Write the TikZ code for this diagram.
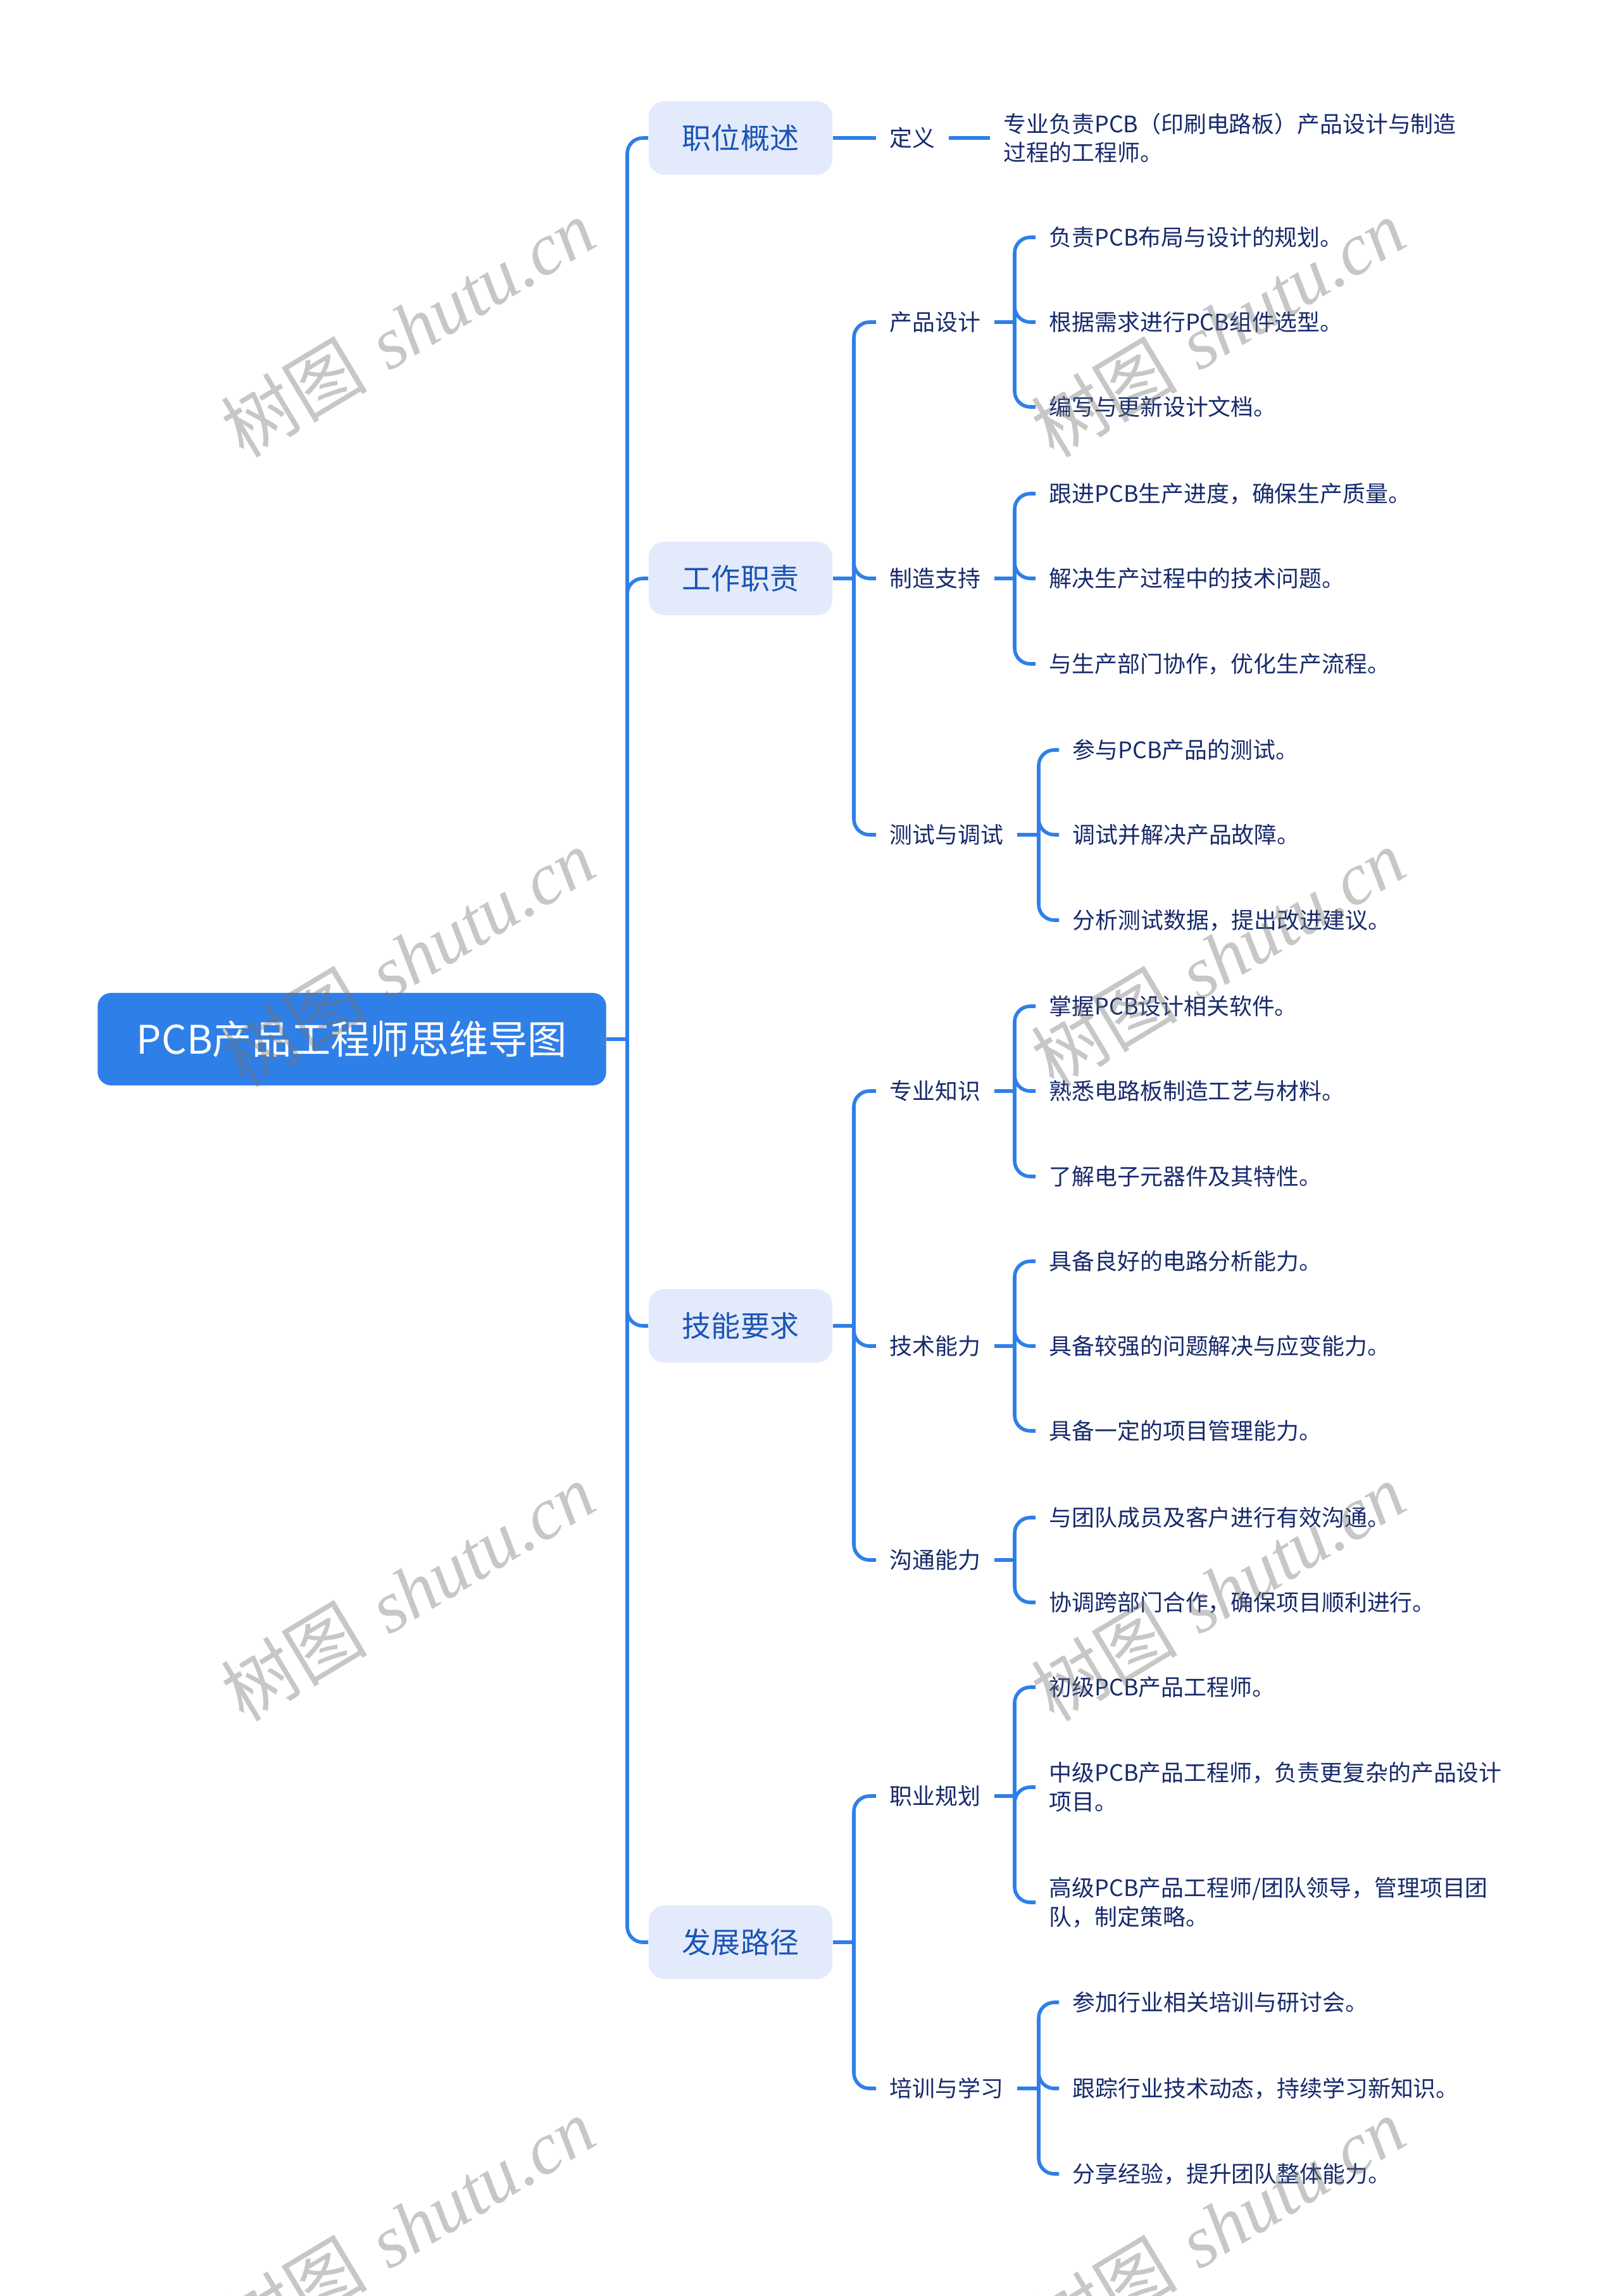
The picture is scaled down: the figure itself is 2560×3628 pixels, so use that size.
\documentclass[tikz,border=0pt]{standalone}
\usepackage{fontspec}
\newfontfamily\cjk{Noto Sans CJK SC}
\newfontfamily\wmserif{Liberation Serif}
\definecolor{linkblue}{HTML}{2F7FE8}
\definecolor{topicfill}{HTML}{E3EAFB}
\definecolor{topictext}{HTML}{1B55B5}
\definecolor{leaftext}{HTML}{172A6B}
\begin{document}
\begin{tikzpicture}[x=0.01cm,y=-0.01cm]
  \tikzstyle{root}=[rectangle,rounded corners=6pt,fill=linkblue,text=white,minimum width=8.03cm,minimum height=1.46cm,font=\cjk\fontsize{17.7}{21}\selectfont]
  \tikzstyle{topic}=[rectangle,rounded corners=7pt,fill=topicfill,text=topictext,minimum width=2.9cm,minimum height=1.16cm,font=\cjk\fontsize{13.1}{16}\selectfont]
  \tikzstyle{sub}=[anchor=west,inner xsep=6pt,inner ysep=2pt,text=leaftext,font=\cjk\fontsize{10.2}{13}\selectfont]
  \tikzstyle{leaf}=[anchor=west,inner xsep=6pt,inner ysep=2pt,align=left,text=leaftext,font=\cjk\fontsize{10.2}{13}\selectfont]
  \tikzstyle{link}=[draw=linkblue,line width=1.6pt,rounded corners=7pt]
  \tikzstyle{watermark}=[rotate=31,text=black!55,text opacity=0.4,font=\fontsize{33}{38}\selectfont]
  \path[fill=white] (0,0) rectangle (2560,3628);
  \useasboundingbox (0,0) rectangle (2560,3628);
  % root and main topics
  \node[root] (root) at (556,1642) {PCB产品工程师思维导图};
  \node[topic] (gaishu) at (1170,218) {职位概述};
  \node[topic] (zhize) at (1170,914) {工作职责};
  \node[topic] (jineng) at (1170,2095) {技能要求};
  \node[topic] (fazhan) at (1170,3069) {发展路径};
  % second level
  \node[sub] (dingyi) at (1384,218) {定义};
  \node[sub] (chanpin) at (1384,509) {产品设计};
  \node[sub] (zhizao) at (1384,914) {制造支持};
  \node[sub] (ceshi) at (1384,1319) {测试与调试};
  \node[sub] (zhuanye) at (1384,1724) {专业知识};
  \node[sub] (jishu) at (1384,2127) {技术能力};
  \node[sub] (goutong) at (1384,2465) {沟通能力};
  \node[sub] (guihua) at (1384,2838) {职业规划};
  \node[sub] (peixun) at (1384,3300) {培训与学习};
  % leaves
  \node[leaf] (dingyiA) at (1564,218) {专业负责PCB（印刷电路板）产品设计与制造\\过程的工程师。};
  \node[leaf] (chanpinA) at (1636,375) {负责PCB布局与设计的规划。};
  \node[leaf] (chanpinB) at (1636,509) {根据需求进行PCB组件选型。};
  \node[leaf] (chanpinC) at (1636,643) {编写与更新设计文档。};
  \node[leaf] (zhizaoA) at (1636,780) {跟进PCB生产进度，确保生产质量。};
  \node[leaf] (zhizaoB) at (1636,914) {解决生产过程中的技术问题。};
  \node[leaf] (zhizaoC) at (1636,1049) {与生产部门协作，优化生产流程。};
  \node[leaf] (ceshiA) at (1673,1185) {参与PCB产品的测试。};
  \node[leaf] (ceshiB) at (1673,1319) {调试并解决产品故障。};
  \node[leaf] (ceshiC) at (1673,1454) {分析测试数据，提出改进建议。};
  \node[leaf] (zhuanyeA) at (1636,1590) {掌握PCB设计相关软件。};
  \node[leaf] (zhuanyeB) at (1636,1724) {熟悉电路板制造工艺与材料。};
  \node[leaf] (zhuanyeC) at (1636,1859) {了解电子元器件及其特性。};
  \node[leaf] (jishuA) at (1636,1993) {具备良好的电路分析能力。};
  \node[leaf] (jishuB) at (1636,2127) {具备较强的问题解决与应变能力。};
  \node[leaf] (jishuC) at (1636,2261) {具备一定的项目管理能力。};
  \node[leaf] (goutongA) at (1636,2398) {与团队成员及客户进行有效沟通。};
  \node[leaf] (goutongB) at (1636,2532) {协调跨部门合作，确保项目顺利进行。};
  \node[leaf] (guihuaA) at (1636,2666) {初级PCB产品工程师。};
  \node[leaf] (guihuaB) at (1636,2824) {中级PCB产品工程师，负责更复杂的产品设计\\项目。};
  \node[leaf] (guihuaC) at (1636,3006) {高级PCB产品工程师/团队领导，管理项目团\\队，制定策略。};
  \node[leaf] (peixunA) at (1673,3164) {参加行业相关培训与研讨会。};
  \node[leaf] (peixunB) at (1673,3300) {跟踪行业技术动态，持续学习新知识。};
  \node[leaf] (peixunC) at (1673,3435) {分享经验，提升团队整体能力。};
  % branch points
  \coordinate (trunk) at (991,1642);
  \coordinate (zhizebus) at (1349,914);
  \coordinate (jinengbus) at (1349,2095);
  \coordinate (fazhanbus) at (1349,3069);
  \coordinate (chanpinbus) at (1603,509);
  \coordinate (zhizaobus) at (1603,914);
  \coordinate (ceshibus) at (1641,1319);
  \coordinate (zhuanyebus) at (1603,1724);
  \coordinate (jishubus) at (1603,2127);
  \coordinate (goutongbus) at (1603,2465);
  \coordinate (guihuabus) at (1603,2838);
  \coordinate (peixunbus) at (1641,3300);
  % connectors
  \draw[link] (root.east) -- (trunk);
  \foreach \t in {gaishu,zhize,jineng,fazhan}
    \draw[link] (trunk) |- (\t.west);
  \draw[link] (gaishu.east) -- (dingyi.west);
  \draw[link] (dingyi.east) -- (dingyiA.west);
  \draw[link] (zhize.east) -- (zhizebus);
  \foreach \s in {chanpin,zhizao,ceshi}
    \draw[link] (zhizebus) |- (\s.west);
  \draw[link] (jineng.east) -- (jinengbus);
  \foreach \s in {zhuanye,jishu,goutong}
    \draw[link] (jinengbus) |- (\s.west);
  \draw[link] (fazhan.east) -- (fazhanbus);
  \foreach \s in {guihua,peixun}
    \draw[link] (fazhanbus) |- (\s.west);
  \foreach \s in {chanpin,zhizao,ceshi,zhuanye,jishu} {
    \draw[link] (\s.east) -- (\s bus);
    \foreach \l in {A,B,C}
      \draw[link] (\s bus) |- (\s\l.west);
  }
  \draw[link] (goutong.east) -- (goutongbus);
  \draw[link] (goutongbus) |- (goutongA.west);
  \draw[link] (goutongbus) |- (goutongB.west);
  \foreach \s in {guihua,peixun} {
    \draw[link] (\s.east) -- (\s bus);
    \foreach \l in {A,B,C}
      \draw[link] (\s bus) |- (\s\l.west);
  }
  % watermark
  \foreach \x in {644,1924}
    \foreach \y in {518,1513,2515,3518}
      \node[watermark] (wm\x\y) at (\x,\y) {{\cjk 树图} {\wmserif\itshape shutu.cn}};
\end{tikzpicture}
\end{document}
